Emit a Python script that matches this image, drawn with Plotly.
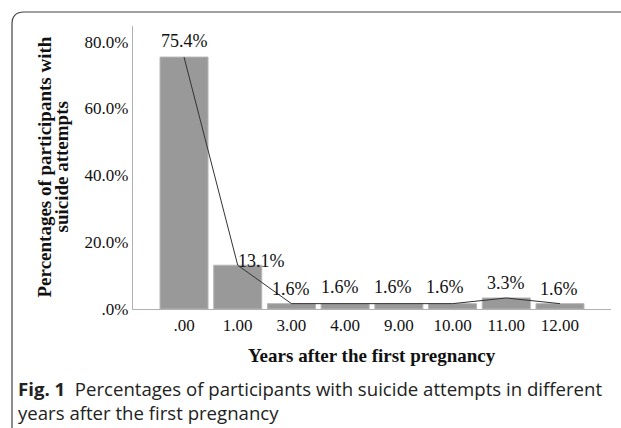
import plotly.graph_objects as go

# ---- data ----
years = [".00", "1.00", "3.00", "4.00", "9.00", "10.00", "11.00", "12.00"]
percentages = [75.4, 13.1, 1.6, 1.6, 1.6, 1.6, 3.3, 1.6]
value_labels = ["75.4%", "13.1%", "1.6%", "1.6%", "1.6%", "1.6%", "3.3%", "1.6%"]
y_tick_values = [0, 20, 40, 60, 80]
y_tick_labels = [".0%", "20.0%", "40.0%", "60.0%", "80.0%"]

# label offsets (pixels) - styling only
label_xshift = [0, 24, 0, -5, -6, -8, 0, -1]
label_yshift = [16, 4, 15, 17, 17, 17, 15, 15]

W, H = 621, 428
ML, MR, MT, MB = 133, 10, 26, 119
PW, PH = W - ML - MR, H - MT - MB

def px(xp):
    return (xp - ML) / PW

def py(yp):
    return (H - MB - yp) / PH

SERIF = "Liberation Serif, Times New Roman, serif"
SANS = "Open Sans, sans-serif"

fig = go.Figure()
fig.add_trace(go.Bar(
    x=years, y=percentages,
    marker=dict(color="#999999", line=dict(color="#b5b5b5", width=1)),
    hoverinfo="skip",
))
fig.add_trace(go.Scatter(
    x=years, y=percentages, mode="lines",
    line=dict(color="#333333", width=1),
    hoverinfo="skip",
))

annotations = []
for i, (y, t, dx, dy) in enumerate(zip(percentages, value_labels, label_xshift, label_yshift)):
    annotations.append(dict(
        x=i, y=y, xref="x", yref="y", text=t, showarrow=False,
        xanchor="center", yanchor="middle", xshift=dx, yshift=dy,
        font=dict(family=SERIF, size=18, color="#111111"),
    ))

# y-axis title (two tight lines)
annotations.append(dict(
    x=px(44), y=0.5, xref="paper", yref="paper",
    text="<b>Percentages of participants with</b>", textangle=-90,
    showarrow=False, xanchor="center", yanchor="middle",
    font=dict(family=SERIF, size=19, color="#111111"),
))
annotations.append(dict(
    x=px(61), y=0.5, xref="paper", yref="paper",
    text="<b>suicide attempts</b>", textangle=-90,
    showarrow=False, xanchor="center", yanchor="middle",
    font=dict(family=SERIF, size=19, color="#111111"),
))
# x-axis title
annotations.append(dict(
    x=px(372), y=py(355), xref="paper", yref="paper",
    text="<b>Years after the first pregnancy</b>",
    showarrow=False, xanchor="center", yanchor="middle",
    font=dict(family=SERIF, size=19, color="#111111"),
))
# caption
annotations.append(dict(
    x=px(16), y=py(388), xref="paper", yref="paper",
    text="<b>Fig. 1</b>&nbsp;&nbsp;Percentages of participants with suicide attempts in different",
    showarrow=False, xanchor="left", yanchor="middle",
    font=dict(family=SANS, size=18.6, color="#222222"),
))
annotations.append(dict(
    x=px(16), y=py(412), xref="paper", yref="paper",
    text="years after the first pregnancy",
    showarrow=False, xanchor="left", yanchor="middle",
    font=dict(family=SANS, size=18.6, color="#222222"),
))

# frame with rounded top-left corner
frame_path = "M {x0},{y0} L {x0},{y1} Q {x0},{y2} {x3},{y2} L {x4},{y2}".format(
    x0=px(12), y0=py(440), y1=py(24), y2=py(12), x3=px(24), x4=px(630))

fig.update_layout(
    width=W, height=H,
    margin=dict(l=ML, r=MR, t=MT, b=MB),
    paper_bgcolor="white", plot_bgcolor="white",
    showlegend=False,
    bargap=0.106,
    annotations=annotations,
    shapes=[dict(type="path", path=frame_path, xref="paper", yref="paper",
                 line=dict(color="#444444", width=1.2), layer="above")],
    xaxis=dict(
        type="category", range=[-0.95, 7.95],
        showline=True, linecolor="#b0b0b0", linewidth=1.2,
        ticks="", showgrid=False, zeroline=False,
        tickfont=dict(family=SERIF, size=17, color="#111111"),
    ),
    yaxis=dict(
        range=[0, 84.7],
        tickvals=y_tick_values, ticktext=y_tick_labels,
        showline=True, linecolor="#b0b0b0", linewidth=1.2,
        ticks="", showgrid=False, zeroline=False,
        tickfont=dict(family=SERIF, size=17, color="#111111"),
    ),
)

fig.write_html(
    "out.html",
    config={"displayModeBar": False},
    post_script="document.body.style.margin='0';document.body.style.overflow='hidden';",
)
